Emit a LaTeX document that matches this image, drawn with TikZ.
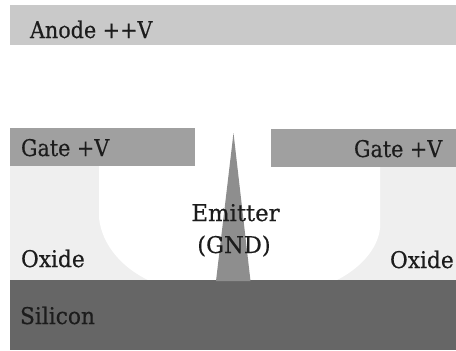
\documentclass[tikz,border=0pt]{standalone}
\usepackage{fontspec}
\setmainfont[FakeBold=0.4]{DejaVu Serif Condensed}
\definecolor{anodegray}{HTML}{C9C9C9}
\definecolor{gategray}{HTML}{A0A0A0}
\definecolor{oxidegray}{HTML}{EFEFEF}
\definecolor{silicongray}{HTML}{666666}
\definecolor{emittergray}{HTML}{8E8E8E}
\definecolor{inkgray}{HTML}{1C1C1C}
\tikzset{
  lbl/.style={anchor=base west,inner sep=0pt,outer sep=0pt,text=inkgray,font=\fontsize{23}{27}\selectfont},
  clbl/.style={anchor=base,inner sep=0pt,outer sep=0pt,text=inkgray,font=\fontsize{23}{27}\selectfont}
}
\begin{document}
\begin{tikzpicture}[x=1pt,y=-1pt]
\useasboundingbox (0,0) rectangle (456,351);
\fill[white] (0,0) rectangle (456,351);
% anode
\fill[anodegray] (10,5) rectangle (456,45);
% oxide with cavity
\fill[oxidegray] (10,166) rectangle (456,281);
\fill[white] (99,166) -- (99,218) .. controls (102,245) and (122,268) .. (150,281)
  -- (335,281) .. controls (358,270) and (378,250) .. (380,228) -- (380,166) -- cycle;
% gates
\fill[gategray] (10,128) rectangle (195,166);
\fill[gategray] (271,129) rectangle (456,167);
% silicon
\fill[silicongray] (10,280) rectangle (456,350);
% emitter
\fill[emittergray] (233.5,133) -- (250.5,281) -- (216,281) -- cycle;
% labels
\node[lbl] (anode) at (30,38) {Anode ++V};
\node[lbl] (gateL) at (21,156) {Gate +V};
\node[lbl] (gateR) at (354,157) {Gate +V};
\node[clbl] (emit) at (235.5,221) {\scalebox{1.1}[1]{Emitter}};
\node[clbl] (gnd) at (234,253) {\scalebox{1.09}[1]{(GND)}};
\node[lbl] (oxL) at (21,267) {\scalebox{1.05}[1]{Oxide}};
\node[lbl] (oxR) at (390,268) {\scalebox{1.05}[1]{Oxide}};
\node[lbl] (si) at (20,324) {\scalebox{1.05}[1]{Silicon}};
\end{tikzpicture}
\end{document}
